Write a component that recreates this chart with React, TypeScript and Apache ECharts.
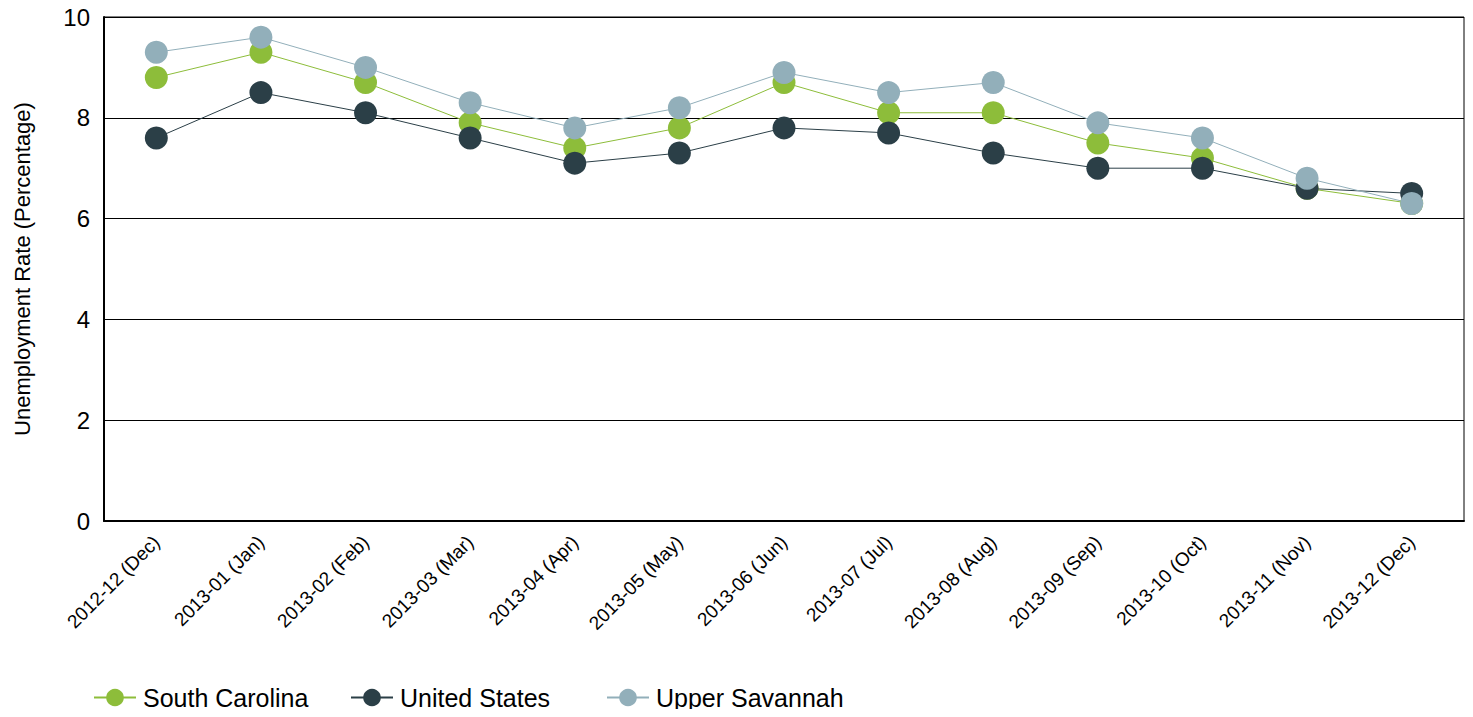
import React, { useEffect, useRef } from "react";
import * as echarts from "echarts";

const categories = [
  "2012-12 (Dec)", "2013-01 (Jan)", "2013-02 (Feb)", "2013-03 (Mar)", "2013-04 (Apr)",
  "2013-05 (May)", "2013-06 (Jun)", "2013-07 (Jul)", "2013-08 (Aug)", "2013-09 (Sep)",
  "2013-10 (Oct)", "2013-11 (Nov)", "2013-12 (Dec)",
];
const southCarolina = [8.8, 9.3, 8.7, 7.9, 7.4, 7.8, 8.7, 8.1, 8.1, 7.5, 7.2, 6.6, 6.3];
const unitedStates = [7.6, 8.5, 8.1, 7.6, 7.1, 7.3, 7.8, 7.7, 7.3, 7.0, 7.0, 6.6, 6.5];
const upperSavannah = [9.3, 9.6, 9.0, 8.3, 7.8, 8.2, 8.9, 8.5, 8.7, 7.9, 7.6, 6.8, 6.3];

const seriesNames = ["South Carolina", "United States", "Upper Savannah"];
const seriesColors = ["#8dbd3a", "#2b3f47", "#92afba"];
const seriesData = [southCarolina, unitedStates, upperSavannah];
const legendLefts = [93, 350, 606];

const FONT = "Liberation Sans, Arial, sans-serif";

export default function App() {
  const ref = useRef<HTMLDivElement>(null);
  useEffect(() => {
    if (!ref.current) return;
    const chart = echarts.init(ref.current, undefined, { renderer: "svg" });
    chart.setOption({
      animation: false,
      textStyle: { fontFamily: FONT },
      grid: {
        left: 104, right: 9, top: 17, bottom: 196,
        show: true, borderColor: "#000", borderWidth: 1,
      },
      legend: seriesNames.map((name, i) => ({
        top: 685,
        left: legendLefts[i],
        itemWidth: 42,
        itemHeight: 22,
        padding: 0,
        textStyle: { fontSize: 25, color: "#000", fontFamily: FONT, padding: [0, 0, 0, 2] },
        data: [name],
      })),
      xAxis: {
        type: "category",
        data: categories,
        boundaryGap: true,
        axisLine: { lineStyle: { color: "#000", width: 2 } },
        axisTick: { show: false },
        axisLabel: { rotate: 45, fontSize: 19, color: "#000", margin: 18, interval: 0 },
      },
      yAxis: {
        type: "value",
        min: 0, max: 10, interval: 2,
        name: "Unemployment Rate (Percentage)",
        nameLocation: "middle",
        nameGap: 71,
        nameTextStyle: { fontSize: 22, color: "#000" },
        axisLine: { show: true, lineStyle: { color: "#000", width: 2 } },
        axisTick: { show: false },
        axisLabel: { fontSize: 24, color: "#000", margin: 14 },
        splitLine: { lineStyle: { color: "#000", width: 1 } },
      },
      series: seriesNames.map((name, i) => ({
        name,
        type: "line",
        data: seriesData[i],
        symbol: "circle",
        symbolSize: 23,
        itemStyle: { color: seriesColors[i] },
        lineStyle: { color: seriesColors[i], width: 1 },
      })),
    });
    return () => chart.dispose();
  }, []);
  return <div ref={ref} style={{ width: 1473, height: 717, margin: -8 }} />;
}
